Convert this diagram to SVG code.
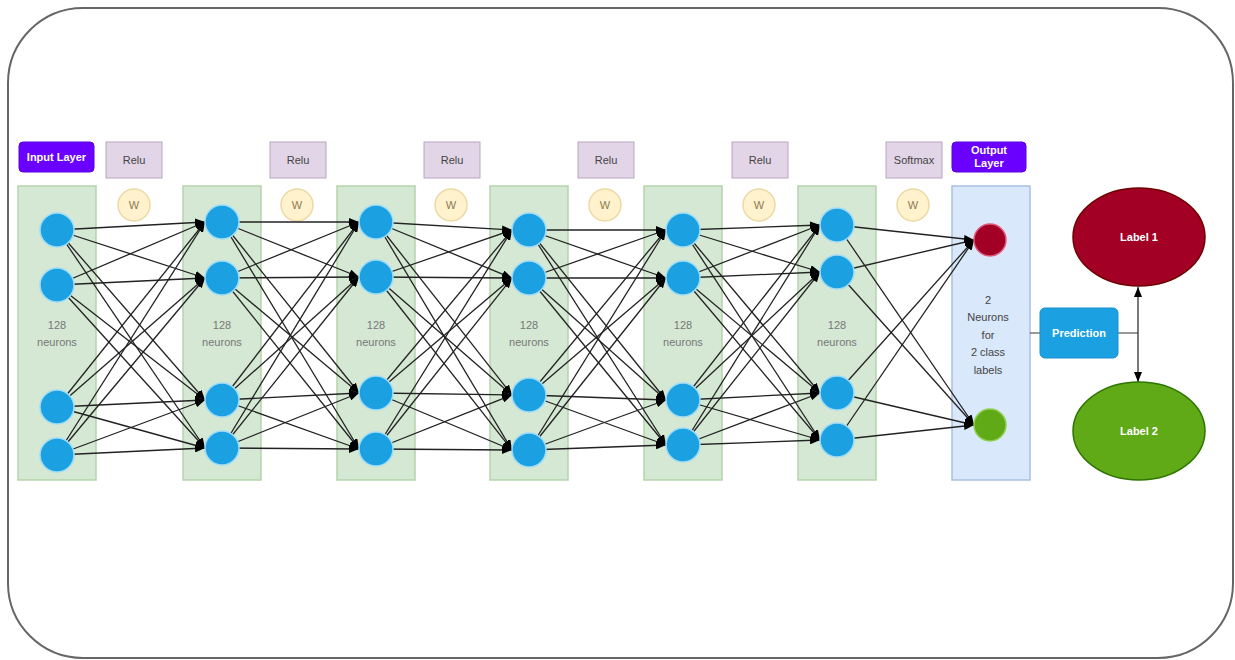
<svg xmlns="http://www.w3.org/2000/svg" width="1235" height="660" viewBox="0 0 1235 660">
<style>
.frame{fill:#fff;stroke:#666;stroke-width:2}
.layer{fill:#d5e8d4;stroke:#b5d3ad;stroke-width:1.5}
.outlayer{fill:#dae8fc;stroke:#a9c0e0;stroke-width:1.5}
.neuron{fill:#1ba1e2;stroke:#9fdcf7;stroke-width:1.5}
.act{fill:#e1d5e7;stroke:#b7a6c0;stroke-width:1}
.w{fill:#fff2cc;stroke:#ecd9a4;stroke-width:1.5}
.tag{fill:#6a00ff;stroke:#5a00e0;stroke-width:1}
.t{font-family:"Liberation Sans",Arial,sans-serif;font-size:11px;text-anchor:middle}
.gray{fill:#777}
.dark{fill:#444}
.wt{fill:#8c7a55}
.white{fill:#fff;font-weight:bold}
.edges line{stroke:#222;stroke-width:1.3;marker-end:url(#ah)}
</style>
<defs>
<marker id="ah" markerUnits="userSpaceOnUse" markerWidth="10" markerHeight="8" refX="10" refY="4" orient="auto">
<path d="M0,0 L10,4 L0,8 z" fill="#000"/>
</marker>
</defs>
<rect class="frame" x="8" y="8" width="1225" height="650" rx="75" ry="75"/>

<g id="layer1"><rect class="layer" x="18" y="186" width="78" height="294"/><text class="t gray" x="57" y="329">128</text><text class="t gray" x="57" y="346">neurons</text></g>
<g id="layer2"><rect class="layer" x="183" y="186" width="78" height="294"/><text class="t gray" x="222" y="329">128</text><text class="t gray" x="222" y="346">neurons</text></g>
<g id="layer3"><rect class="layer" x="337" y="186" width="78" height="294"/><text class="t gray" x="376" y="329">128</text><text class="t gray" x="376" y="346">neurons</text></g>
<g id="layer4"><rect class="layer" x="490" y="186" width="78" height="294"/><text class="t gray" x="529" y="329">128</text><text class="t gray" x="529" y="346">neurons</text></g>
<g id="layer5"><rect class="layer" x="644" y="186" width="78" height="294"/><text class="t gray" x="683" y="329">128</text><text class="t gray" x="683" y="346">neurons</text></g>
<g id="layer6"><rect class="layer" x="798" y="186" width="78" height="294"/><text class="t gray" x="837" y="329">128</text><text class="t gray" x="837" y="346">neurons</text></g>
<g id="outputlayer"><rect class="outlayer" x="952" y="186" width="78" height="294"/>
<text class="t dark" x="988" y="304">2</text><text class="t dark" x="988" y="321">Neurons</text><text class="t dark" x="988" y="339">for</text><text class="t dark" x="988" y="356">2 class</text><text class="t dark" x="988" y="374">labels</text></g>

<g id="inputtag"><rect class="tag" x="19" y="142" width="75" height="30" rx="4"/><text class="t white" x="56.5" y="161">Input Layer</text></g>
<g id="outputtag"><rect class="tag" x="952" y="142" width="74" height="30" rx="4"/><text class="t white" x="989" y="154">Output</text><text class="t white" x="989" y="167">Layer</text></g>

<g id="act1"><rect class="act" x="106" y="142" width="56" height="36"/><text class="t dark" x="134" y="164">Relu</text></g>
<g id="act2"><rect class="act" x="270" y="142" width="56" height="36"/><text class="t dark" x="298" y="164">Relu</text></g>
<g id="act3"><rect class="act" x="424" y="142" width="56" height="36"/><text class="t dark" x="452" y="164">Relu</text></g>
<g id="act4"><rect class="act" x="578" y="142" width="56" height="36"/><text class="t dark" x="606" y="164">Relu</text></g>
<g id="act5"><rect class="act" x="732" y="142" width="56" height="36"/><text class="t dark" x="760" y="164">Relu</text></g>
<g id="act6"><rect class="act" x="886" y="142" width="56" height="36"/><text class="t dark" x="914" y="164">Softmax</text></g>

<g id="w1"><circle class="w" cx="134" cy="205" r="16"/><text class="t wt" x="134" y="209">W</text></g>
<g id="w2"><circle class="w" cx="297" cy="205" r="16"/><text class="t wt" x="297" y="209">W</text></g>
<g id="w3"><circle class="w" cx="451" cy="205" r="16"/><text class="t wt" x="451" y="209">W</text></g>
<g id="w4"><circle class="w" cx="605" cy="205" r="16"/><text class="t wt" x="605" y="209">W</text></g>
<g id="w5"><circle class="w" cx="759" cy="205" r="16"/><text class="t wt" x="759" y="209">W</text></g>
<g id="w6"><circle class="w" cx="913" cy="205" r="16"/><text class="t wt" x="913" y="209">W</text></g>

<g id="connectors" class="edges">
<line x1="57" y1="230" x2="205" y2="222"/><line x1="57" y1="230" x2="205" y2="278"/><line x1="57" y1="230" x2="205" y2="400"/><line x1="57" y1="230" x2="205" y2="448"/>
<line x1="57" y1="285" x2="205" y2="222"/><line x1="57" y1="285" x2="205" y2="278"/><line x1="57" y1="285" x2="205" y2="400"/><line x1="57" y1="285" x2="205" y2="448"/>
<line x1="57" y1="407" x2="205" y2="222"/><line x1="57" y1="407" x2="205" y2="278"/><line x1="57" y1="407" x2="205" y2="400"/><line x1="57" y1="407" x2="205" y2="448"/>
<line x1="57" y1="455" x2="205" y2="222"/><line x1="57" y1="455" x2="205" y2="278"/><line x1="57" y1="455" x2="205" y2="400"/><line x1="57" y1="455" x2="205" y2="448"/>
<line x1="222" y1="222" x2="359" y2="222"/><line x1="222" y1="222" x2="359" y2="277"/><line x1="222" y1="222" x2="359" y2="393"/><line x1="222" y1="222" x2="359" y2="449"/>
<line x1="222" y1="278" x2="359" y2="222"/><line x1="222" y1="278" x2="359" y2="277"/><line x1="222" y1="278" x2="359" y2="393"/><line x1="222" y1="278" x2="359" y2="449"/>
<line x1="222" y1="400" x2="359" y2="222"/><line x1="222" y1="400" x2="359" y2="277"/><line x1="222" y1="400" x2="359" y2="393"/><line x1="222" y1="400" x2="359" y2="449"/>
<line x1="222" y1="448" x2="359" y2="222"/><line x1="222" y1="448" x2="359" y2="277"/><line x1="222" y1="448" x2="359" y2="393"/><line x1="222" y1="448" x2="359" y2="449"/>
<line x1="376" y1="222" x2="512" y2="230"/><line x1="376" y1="222" x2="512" y2="278"/><line x1="376" y1="222" x2="512" y2="395"/><line x1="376" y1="222" x2="512" y2="450"/>
<line x1="376" y1="277" x2="512" y2="230"/><line x1="376" y1="277" x2="512" y2="278"/><line x1="376" y1="277" x2="512" y2="395"/><line x1="376" y1="277" x2="512" y2="450"/>
<line x1="376" y1="393" x2="512" y2="230"/><line x1="376" y1="393" x2="512" y2="278"/><line x1="376" y1="393" x2="512" y2="395"/><line x1="376" y1="393" x2="512" y2="450"/>
<line x1="376" y1="449" x2="512" y2="230"/><line x1="376" y1="449" x2="512" y2="278"/><line x1="376" y1="449" x2="512" y2="395"/><line x1="376" y1="449" x2="512" y2="450"/>
<line x1="529" y1="230" x2="666" y2="230"/><line x1="529" y1="230" x2="666" y2="278"/><line x1="529" y1="230" x2="666" y2="400"/><line x1="529" y1="230" x2="666" y2="445"/>
<line x1="529" y1="278" x2="666" y2="230"/><line x1="529" y1="278" x2="666" y2="278"/><line x1="529" y1="278" x2="666" y2="400"/><line x1="529" y1="278" x2="666" y2="445"/>
<line x1="529" y1="395" x2="666" y2="230"/><line x1="529" y1="395" x2="666" y2="278"/><line x1="529" y1="395" x2="666" y2="400"/><line x1="529" y1="395" x2="666" y2="445"/>
<line x1="529" y1="450" x2="666" y2="230"/><line x1="529" y1="450" x2="666" y2="278"/><line x1="529" y1="450" x2="666" y2="400"/><line x1="529" y1="450" x2="666" y2="445"/>
<line x1="683" y1="230" x2="820" y2="225"/><line x1="683" y1="230" x2="820" y2="272"/><line x1="683" y1="230" x2="820" y2="393"/><line x1="683" y1="230" x2="820" y2="440"/>
<line x1="683" y1="278" x2="820" y2="225"/><line x1="683" y1="278" x2="820" y2="272"/><line x1="683" y1="278" x2="820" y2="393"/><line x1="683" y1="278" x2="820" y2="440"/>
<line x1="683" y1="400" x2="820" y2="225"/><line x1="683" y1="400" x2="820" y2="272"/><line x1="683" y1="400" x2="820" y2="393"/><line x1="683" y1="400" x2="820" y2="440"/>
<line x1="683" y1="445" x2="820" y2="225"/><line x1="683" y1="445" x2="820" y2="272"/><line x1="683" y1="445" x2="820" y2="393"/><line x1="683" y1="445" x2="820" y2="440"/>
<line x1="837" y1="225" x2="974" y2="240"/><line x1="837" y1="225" x2="974" y2="425"/>
<line x1="837" y1="272" x2="974" y2="240"/><line x1="837" y1="272" x2="974" y2="425"/>
<line x1="837" y1="393" x2="974" y2="240"/><line x1="837" y1="393" x2="974" y2="425"/>
<line x1="837" y1="440" x2="974" y2="240"/><line x1="837" y1="440" x2="974" y2="425"/>
<path d="M1030,333 L1040,333" fill="none" stroke="#555" stroke-width="1.2"/>
<path d="M1118,333 L1138,333" fill="none" stroke="#555" stroke-width="1.2"/>
<path d="M1138,333 L1138,287" fill="none" stroke="#222" stroke-width="1.2" marker-end="url(#ah)"/>
<path d="M1138,333 L1138,382" fill="none" stroke="#222" stroke-width="1.2" marker-end="url(#ah)"/>
</g>

<g id="neurons1"><circle class="neuron" cx="57" cy="230" r="17"/><circle class="neuron" cx="57" cy="285" r="17"/><circle class="neuron" cx="57" cy="407" r="17"/><circle class="neuron" cx="57" cy="455" r="17"/></g>
<g id="neurons2"><circle class="neuron" cx="222" cy="222" r="17"/><circle class="neuron" cx="222" cy="278" r="17"/><circle class="neuron" cx="222" cy="400" r="17"/><circle class="neuron" cx="222" cy="448" r="17"/></g>
<g id="neurons3"><circle class="neuron" cx="376" cy="222" r="17"/><circle class="neuron" cx="376" cy="277" r="17"/><circle class="neuron" cx="376" cy="393" r="17"/><circle class="neuron" cx="376" cy="449" r="17"/></g>
<g id="neurons4"><circle class="neuron" cx="529" cy="230" r="17"/><circle class="neuron" cx="529" cy="278" r="17"/><circle class="neuron" cx="529" cy="395" r="17"/><circle class="neuron" cx="529" cy="450" r="17"/></g>
<g id="neurons5"><circle class="neuron" cx="683" cy="230" r="17"/><circle class="neuron" cx="683" cy="278" r="17"/><circle class="neuron" cx="683" cy="400" r="17"/><circle class="neuron" cx="683" cy="445" r="17"/></g>
<g id="neurons6"><circle class="neuron" cx="837" cy="225" r="17"/><circle class="neuron" cx="837" cy="272" r="17"/><circle class="neuron" cx="837" cy="393" r="17"/><circle class="neuron" cx="837" cy="440" r="17"/></g>
<g id="out1"><circle cx="990" cy="240" r="16" fill="#a20025" stroke="#e05a78" stroke-width="1.5"/></g>
<g id="out2"><circle cx="990" cy="425" r="16" fill="#60a917" stroke="#8fd050" stroke-width="1.5"/></g>

<g id="prediction"><rect x="1040" y="308" width="78" height="50" rx="5" fill="#1ba1e2" stroke="#1a8fd0"/><text class="t white" x="1079" y="337">Prediction</text></g>
<g id="label1"><ellipse cx="1139" cy="237" rx="66" ry="49" fill="#a20025" stroke="#6f0000" stroke-width="1.5"/><text class="t white" x="1139" y="241">Label 1</text></g>
<g id="label2"><ellipse cx="1139" cy="431" rx="66" ry="49" fill="#60a917" stroke="#2d7600" stroke-width="1.5"/><text class="t white" x="1139" y="435">Label 2</text></g>
</svg>
